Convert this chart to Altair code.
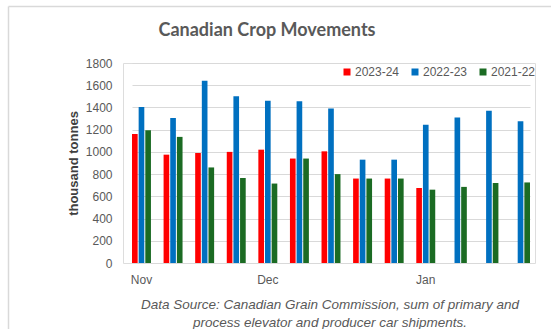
import altair as alt
import pandas as pd

weeks = list(range(1, 14))
week_labels = ["Nov", "", "", "", "Dec", "", "", "", "", "Jan", "", "", ""]
series = ["2023-24", "2022-23", "2021-22"]
colors = ["#FF0000", "#0070C0", "#1B6B23"]
s2023 = [1160, 975, 990, 1000, 1020, 940, 1005, 760, 760, 675, None, None, None]
s2022 = [1405, 1305, 1640, 1500, 1460, 1455, 1390, 930, 930, 1245, 1310, 1370, 1275]
s2021 = [1195, 1135, 860, 765, 715, 940, 800, 760, 760, 660, 685, 720, 725]
y_ticks = list(range(0, 1801, 200))

title_text = "Canadian Crop Movements"
footer_lines = [
    "Data Source: Canadian Grain Commission, sum of  primary  and",
    "process elevator  and producer car shipments.",
]

rows = []
for name, vals in zip(series, [s2023, s2022, s2021]):
    for w, v in zip(weeks, vals):
        if v is not None:
            rows.append({"week": w, "series": name, "value": v})
df = pd.DataFrame(rows)

label_expr = " : ".join(
    f"datum.value == {w} ? '{l}'" for w, l in zip(weeks, week_labels) if l
) + " : ''"

W, H = 412, 200
PL, PT = 123, 63

bars = alt.Chart(df).mark_bar().encode(
    x=alt.X("week:O", title=None,
            scale=alt.Scale(range=[9, 407], paddingInner=0.4, paddingOuter=0),
            axis=alt.Axis(labelExpr=label_expr, labelAngle=0, ticks=False,
                          domainColor="#d9d9d9", labelColor="#595959",
                          labelFontSize=12, labelFont="Liberation Sans",
                          labelPadding=11)),
    xOffset=alt.XOffset("series:N", scale=alt.Scale(domain=series, paddingInner=0.15, paddingOuter=0)),
    y=alt.Y("value:Q", title="thousand tonnes",
            scale=alt.Scale(domain=[0, 1800], nice=False),
            axis=alt.Axis(values=y_ticks, format="d", domain=False, ticks=False,
                          gridColor="#d9d9d9", labelColor="#595959",
                          labelFontSize=12, labelFont="Liberation Sans",
                          labelPadding=11,
                          titleFont="Liberation Sans", titleFontSize=13,
                          titleFontWeight="bold", titleColor="#404040",
                          titleX=-50, titleY=H / 2, titleAngle=-90,
                          titleBaseline="middle", titleAlign="center")),
    color=alt.Color("series:N", scale=alt.Scale(domain=series, range=colors),
                    legend=alt.Legend(title=None, orient="none", legendX=218, legendY=3,
                                      direction="horizontal", symbolType="square",
                                      symbolSize=49, symbolStrokeWidth=0,
                                      labelFont="Liberation Sans", labelFontSize=12,
                                      labelColor="#595959", labelOffset=2,
                                      columnPadding=9)),
)

one = pd.DataFrame({"a": [0]})

title_mark = alt.Chart(one).mark_text(
    text=title_text, font="Lato", fontSize=18, fontWeight="bold",
    color="#595959", align="center", baseline="middle"
).encode(x=alt.value(267 - PL), y=alt.value(31 - PT))

footer1 = alt.Chart(one).mark_text(
    text=footer_lines[0], font="Liberation Sans", fontSize=13.5, fontStyle="italic",
    color="#595959", align="center", baseline="middle"
).encode(x=alt.value(330 - PL), y=alt.value(305 - PT))
footer2 = alt.Chart(one).mark_text(
    text=footer_lines[1], font="Liberation Sans", fontSize=13.5, fontStyle="italic",
    color="#595959", align="center", baseline="middle"
).encode(x=alt.value(330 - PL), y=alt.value(323 - PT))

border_v = alt.Chart(one).mark_rule(color="#d9d9d9", strokeWidth=1.5).encode(
    x=alt.value(8.5 - PL), y=alt.value(6.5 - PT), y2=alt.value(340 - PT))
border_h = alt.Chart(one).mark_rule(color="#d9d9d9", strokeWidth=1.5).encode(
    x=alt.value(8.5 - PL), x2=alt.value(560 - PL), y=alt.value(6.5 - PT))

chart = alt.layer(bars, title_mark, footer1, footer2, border_v, border_h).properties(
    width=W, height=H,
    autosize=alt.AutoSizeParams(type="none"),
    padding={"left": PL, "top": PT, "right": 551 - PL - W, "bottom": 329 - PT - H},
).configure_view(stroke=None).configure(background="white")

chart.save("out.html", embed_options={"renderer": "svg", "actions": False})
